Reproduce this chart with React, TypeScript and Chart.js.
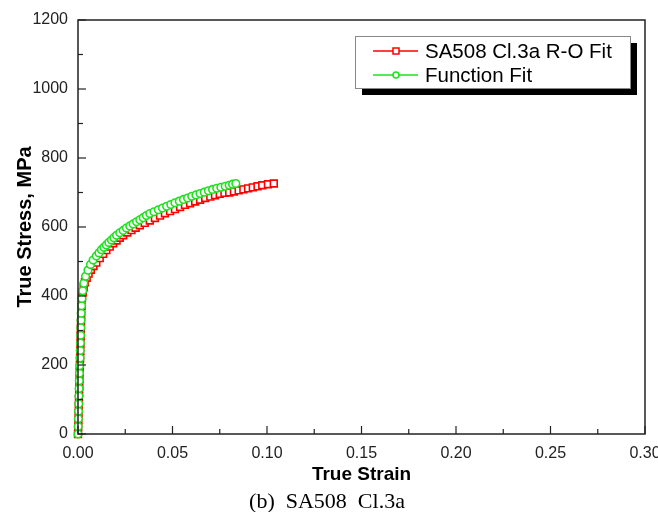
import React, { useEffect, useRef } from 'react';
import { Chart, registerables } from 'chart.js';

Chart.register(...registerables);

// ---- data ----
const roStrain = [
  0, 0.0001, 0.0002, 0.0003, 0.0004, 0.0005, 0.0006, 0.0007, 0.0008, 0.0009, 0.0010, 0.0011,
  0.0012, 0.0013, 0.0014, 0.0015, 0.0016, 0.0017, 0.0019, 0.0021, 0.0025, 0.0030, 0.0037,
  0.0046, 0.0056, 0.0068, 0.0082, 0.0097, 0.0115, 0.0133, 0.0150, 0.0168, 0.0186, 0.0204,
  0.0221, 0.0239, 0.0261, 0.0283, 0.0305, 0.0327, 0.0353, 0.0380, 0.0407, 0.0434, 0.0460,
  0.0487, 0.0513, 0.0540, 0.0566, 0.0593, 0.0620, 0.0646, 0.0673, 0.0700, 0.0725, 0.0750,
  0.0775, 0.0800, 0.0825, 0.0850, 0.0875, 0.0900, 0.0925, 0.0950, 0.0975, 0.1005, 0.1036,
];
const roStress = [
  0, 20, 40, 60, 80, 100, 120, 140, 160, 180, 200, 220,
  240, 262, 284, 305, 325, 345, 370, 395, 410, 425, 440,
  453, 465, 476, 487, 497, 510, 522, 533, 543, 553, 561,
  569, 576, 584, 591, 598, 605, 612, 619, 626, 633, 640,
  646, 652, 658, 664, 669, 674, 679, 684, 688, 692, 696,
  699, 700, 703, 706, 709, 712, 715, 718, 721, 724, 726,
];
const fitStrain = [
  0, 0.0001, 0.0002, 0.0003, 0.0004, 0.0005, 0.0006, 0.0007, 0.0008, 0.0009, 0.0011, 0.0012,
  0.0013, 0.0014, 0.0015, 0.0016, 0.0017, 0.0019, 0.0021, 0.0025, 0.0031, 0.0040, 0.0053,
  0.0066, 0.0080, 0.0097, 0.0111, 0.0124, 0.0137, 0.0150, 0.0163, 0.0177, 0.0190, 0.0204,
  0.0221, 0.0239, 0.0256, 0.0274, 0.0292, 0.0310, 0.0327, 0.0345, 0.0362, 0.0380, 0.0402,
  0.0425, 0.0447, 0.0469, 0.0491, 0.0513, 0.0536, 0.0558, 0.0580, 0.0602, 0.0624, 0.0646,
  0.0668, 0.0690, 0.0712, 0.0734, 0.0756, 0.0779, 0.0800, 0.0818, 0.0835,
];
const fitStress = [
  0, 22, 44, 66, 88, 110, 132, 154, 176, 198, 220, 242,
  264, 286, 308, 330, 350, 372, 393, 415, 437, 457, 475,
  491, 504, 516, 525, 534, 541, 548, 555, 562, 569, 576,
  583, 590, 597, 603, 609, 615, 621, 627, 633, 639, 644,
  650, 655, 660, 665, 670, 675, 680, 684, 689, 693, 697,
  701, 705, 709, 712, 715, 718, 721, 724, 726,
];
const seriesLabels = ['SA508 Cl.3a R-O Fit', 'Function Fit'];
const seriesColors = ['#ff0000', '#1fe01f'];
const xTitle = 'True Strain';
const yTitle = 'True Stress, MPa';
const caption = '(b)  SA508  Cl.3a';
const xMin = 0, xMax = 0.3, xStep = 0.05;
const yMin = 0, yMax = 1200, yStep = 200;

const SANS = '"Liberation Sans", Arial, sans-serif';

const framePlugin = {
  id: 'frameAndLegend',
  afterDraw(chart: any) {
    const { ctx, chartArea: a, scales } = chart;
    const x = scales.x, y = scales.y;
    ctx.save();
    ctx.strokeStyle = '#222';
    ctx.lineWidth = 1.5;
    ctx.strokeRect(a.left, a.top, a.right - a.left, a.bottom - a.top);
    ctx.lineWidth = 1.2;
    // x ticks (major + minor), pointing inward
    const nx = Math.round((xMax - xMin) / (xStep / 2));
    for (let i = 0; i <= nx; i++) {
      const px = x.getPixelForValue(xMin + (i * xStep) / 2);
      const len = i % 2 === 0 ? 8 : 5;
      ctx.beginPath();
      ctx.moveTo(px, a.bottom);
      ctx.lineTo(px, a.bottom - len);
      ctx.stroke();
    }
    const ny = Math.round((yMax - yMin) / (yStep / 2));
    for (let i = 0; i <= ny; i++) {
      const py = y.getPixelForValue(yMin + (i * yStep) / 2);
      const len = i % 2 === 0 ? 8 : 5;
      ctx.beginPath();
      ctx.moveTo(a.left, py);
      ctx.lineTo(a.left + len, py);
      ctx.stroke();
    }
    // legend box with shadow
    const bx = 355, by = 36, bw = 275, bh = 52;
    ctx.fillStyle = '#000';
    ctx.fillRect(bx + 7, by + 7, bw, bh);
    ctx.fillStyle = '#fff';
    ctx.fillRect(bx, by, bw, bh);
    ctx.strokeStyle = '#888';
    ctx.lineWidth = 1;
    ctx.strokeRect(bx + 0.5, by + 0.5, bw, bh);
    const rows = [51, 75];
    chart.data.datasets.forEach((ds: any, i: number) => {
      const ry = rows[i];
      ctx.strokeStyle = ds.borderColor;
      ctx.lineWidth = 1.5;
      ctx.beginPath();
      ctx.moveTo(373, ry);
      ctx.lineTo(418, ry);
      ctx.stroke();
      ctx.fillStyle = '#fff';
      if (ds.pointStyle === 'rect') {
        ctx.fillRect(393, ry - 3, 6, 6);
        ctx.strokeRect(393, ry - 3, 6, 6);
      } else {
        ctx.beginPath();
        ctx.arc(396, ry, 3, 0, Math.PI * 2);
        ctx.fill();
        ctx.stroke();
      }
      ctx.fillStyle = '#000';
      ctx.font = `20.5px ${SANS}`;
      ctx.textBaseline = 'middle';
      ctx.textAlign = 'left';
      ctx.fillText(ds.label, 425, ry + 1);
    });
    ctx.restore();
  },
};

export default function App() {
  const ref = useRef<HTMLCanvasElement>(null);
  useEffect(() => {
    const roData = roStrain.map((v, i) => ({ x: v, y: roStress[i] }));
    const fitData = fitStrain.map((v, i) => ({ x: v, y: fitStress[i] }));
    const chart = new Chart(ref.current as HTMLCanvasElement, {
      type: 'line',
      data: {
        datasets: [
          {
            label: seriesLabels[0],
            data: roData,
            borderColor: seriesColors[0],
            backgroundColor: '#ffffff',
            borderWidth: 1,
            pointStyle: 'rect',
            pointRadius: 4.8,
            pointBorderWidth: 1.6,
            pointBackgroundColor: '#ffffff',
            pointBorderColor: seriesColors[0],
            clip: false,
            order: 2,
          } as any,
          {
            label: seriesLabels[1],
            data: fitData,
            borderColor: seriesColors[1],
            backgroundColor: '#ffffff',
            borderWidth: 1,
            pointStyle: 'circle',
            pointRadius: 3.8,
            pointBorderWidth: 1.6,
            pointBackgroundColor: '#ffffff',
            pointBorderColor: seriesColors[1],
            clip: false,
            order: 1,
          } as any,
        ],
      },
      options: {
        responsive: false,
        devicePixelRatio: 1,
        animation: false,
        layout: { padding: { top: 20, right: 13, left: 0, bottom: 0 } },
        plugins: { legend: { display: false }, tooltip: { enabled: false }, title: { display: false } },
        scales: {
          x: {
            type: 'linear',
            min: xMin,
            max: xMax,
            grid: { display: false, drawTicks: false },
            border: { display: false },
            ticks: {
              stepSize: xStep,
              padding: 10,
              maxRotation: 0,
              autoSkip: false,
              color: '#222',
              font: { family: SANS, size: 16 },
              callback: (v: any) => Number(v).toFixed(2),
            },
            title: {
              display: true,
              text: xTitle,
              color: '#000',
              font: { family: SANS, size: 19, weight: 'bold' },
              padding: { top: 0, bottom: 26 },
            },
            afterFit: (s: any) => {
              s.height = 78;
              s.paddingLeft = 0;
              s.paddingRight = 0;
            },
          },
          y: {
            type: 'linear',
            min: yMin,
            max: yMax,
            grid: { display: false, drawTicks: false },
            border: { display: false },
            ticks: {
              stepSize: yStep,
              padding: 10,
              color: '#222',
              font: { family: SANS, size: 16 },
              callback: (v: any) => String(v),
            },
            title: {
              display: true,
              text: yTitle,
              color: '#000',
              font: { family: SANS, size: 20, weight: 'bold' },
              padding: { top: 13, bottom: 0 },
            },
            afterFit: (s: any) => {
              s.width = 78;
              s.paddingTop = 0;
              s.paddingBottom = 0;
            },
          },
        },
      } as any,
      plugins: [framePlugin],
    });
    return () => chart.destroy();
  }, []);

  return (
    <div style={{ position: 'absolute', left: 0, top: 0, width: 658, height: 512, background: '#fff', overflow: 'hidden' }}>
      <canvas ref={ref} width={658} height={512} style={{ display: 'block' }} />
      <div
        style={{
          position: 'absolute',
          left: 177,
          width: 300,
          top: 490,
          textAlign: 'center',
          whiteSpace: 'pre',
          fontFamily: '"Liberation Serif", "Times New Roman", serif',
          fontSize: 22,
          lineHeight: '22px',
          color: '#000',
        }}
      >
        {caption}
      </div>
    </div>
  );
}
